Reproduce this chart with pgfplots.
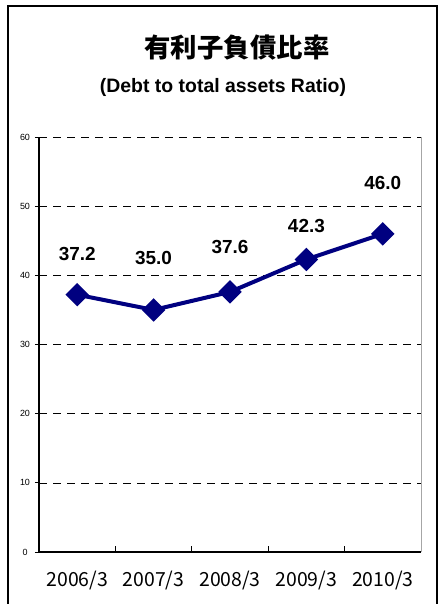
\documentclass[border=0pt]{standalone}
\usepackage{pgfplots}
\pgfplotsset{compat=1.18}
\usepackage{fontspec}
\setmainfont{Liberation Sans}
\newfontfamily\jp{Noto Sans CJK JP}
\definecolor{navyline}{RGB}{0,0,128}
\begin{document}
\begin{tikzpicture}
\useasboundingbox (0bp,0bp) rectangle (441bp,604bp);
\draw[line width=1.5bp] (8bp,0bp) -- (8bp,598bp) -- (437bp,598bp) -- (437bp,0bp);
\node[font=\jp\bfseries\fontsize{26.5}{30}\selectfont] at (237bp,556bp) {有利子負債比率};
\node[font=\bfseries\fontsize{19.5}{23}\selectfont] at (223bp,517bp) {(Debt to total assets Ratio)};
\begin{axis}[
  at={(39bp,52bp)}, anchor=south west,
  scale only axis, width=382bp, height=415bp,
  xmin=-0.5, xmax=4.5, ymin=0, ymax=60,
  axis x line=bottom, axis y line=left,
  axis line style={-, black, line width=1.2bp},
  xtick={0,1,2,3,4},
  xticklabels={2006/3,2007/3,2008/3,2009/3,2010/3},
  major x tick style={draw=none},
  minor xtick={0.5,1.5,2.5,3.5,4.5},
  minor x tick style={black, line width=0.8bp},
  minor tick length=6bp,
  tick align=inside,
  ytick={0,10,20,30,40,50,60},
  major tick length=4bp,
  y tick style={black, line width=0.8bp, xshift=-4bp},
  ymajorgrids,
  major grid style={black, line width=0.6bp, dash pattern=on 8bp off 6bp},
  yticklabel style={font=\fontsize{9}{10}\selectfont, anchor=center, xshift=-14bp},
  xticklabel style={font=\jp\fontsize{19.5}{22}\selectfont, anchor=center, yshift=-29bp},
  /pgf/number format/assume math mode=true,
  clip=false,
]
\draw[gray!70, line width=0.8bp] (rel axis cs:1,0) -- (rel axis cs:1,1);
\addplot[navyline, line width=4bp, mark=square*, mark size=6.3bp, mark options={rotate=45, solid}]
  coordinates {(0,37.2) (1,35.0) (2,37.6) (3,42.3) (4,46.0)};
\addplot[draw=none, no marks, nodes near coords, point meta=explicit symbolic,
  nodes near coords style={font=\bfseries\fontsize{19}{22}\selectfont, anchor=center, black}]
  coordinates {(0,43.1)[37.2] (1,42.5)[35.0] (2,44.1)[37.6] (3,47.1)[42.3] (4,53.3)[46.0]};
\end{axis}
\end{tikzpicture}
\end{document}
